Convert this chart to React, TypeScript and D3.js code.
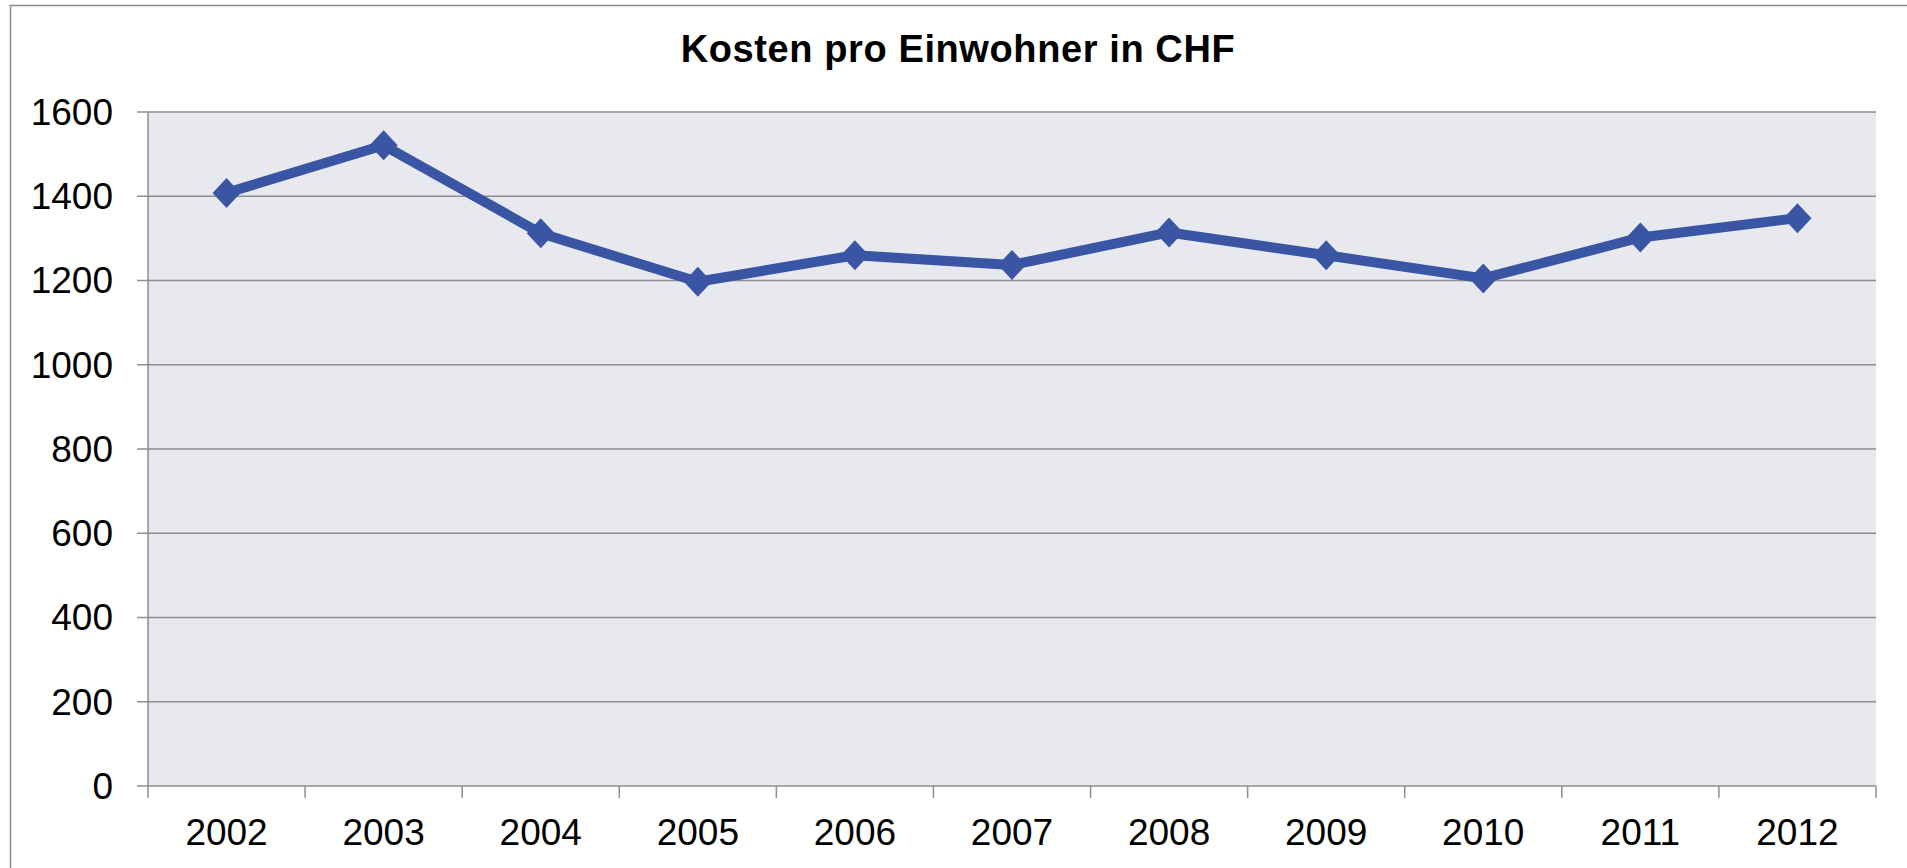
import React from "react";
import * as d3 from "d3";

const years = ["2002", "2003", "2004", "2005", "2006", "2007", "2008", "2009", "2010", "2011", "2012"];
const kosten = [1408, 1521, 1312, 1197, 1260, 1237, 1314, 1260, 1205, 1302, 1348];
const yTicks = [0, 200, 400, 600, 800, 1000, 1200, 1400, 1600];
const title = "Kosten pro Einwohner in CHF";

const W = 1907;
const H = 868;
const plot = { left: 148, right: 1876, top: 112, bottom: 786 };
const lineColor = "#3955a3";
const gridColor = "#8e8e8e";
const font = "'Liberation Sans', Arial, sans-serif";

const App: React.FC = () => {
  const x = d3
    .scaleBand<string>()
    .domain(years)
    .range([plot.left, plot.right])
    .paddingInner(0)
    .paddingOuter(0);

  const y = d3.scaleLinear().domain([0, 1600]).range([plot.bottom, plot.top]);

  const cx = (yr: string) => (x(yr) || 0) + x.bandwidth() / 2;

  const line = d3
    .line<number>()
    .x((_, i) => cx(years[i]))
    .y((d) => y(d));

  // diamond marker, a bit taller than wide like the original
  const diamond = (px: number, py: number) =>
    `M${px},${py - 15}L${px + 14},${py}L${px},${py + 15}L${px - 14},${py}Z`;

  const boundaries = years.map((yr) => x(yr) || 0).concat([plot.right]);

  return (
    <svg
      width={W}
      height={H}
      style={{ position: "fixed", top: 0, left: 0, background: "#fff" }}
    >
      {/* chart frame */}
      <rect x={10.5} y={5.5} width={W + 20} height={H + 20} fill="#fff" stroke="#8c8c8c" strokeWidth={1.5} />

      <text
        x={958}
        y={62}
        textAnchor="middle"
        fontFamily={font}
        fontWeight="bold"
        fontSize={38}
        letterSpacing={0.6}
        fill="#000"
      >
        {title}
      </text>

      <rect
        x={plot.left}
        y={plot.top}
        width={plot.right - plot.left}
        height={plot.bottom - plot.top}
        fill="#e8e9ef"
      />

      {yTicks.map((t) => (
        <g key={t}>
          <line x1={137} x2={plot.right} y1={y(t)} y2={y(t)} stroke={gridColor} strokeWidth={1.5} />
          <text
            x={113}
            y={y(t)}
            dy="0.35em"
            textAnchor="end"
            fontFamily={font}
            fontSize={37}
            fill="#000"
          >
            {t}
          </text>
        </g>
      ))}

      <line x1={plot.left} x2={plot.left} y1={plot.top} y2={plot.bottom} stroke={gridColor} strokeWidth={1.5} />

      {boundaries.map((b, i) => (
        <line key={i} x1={b} x2={b} y1={plot.bottom} y2={plot.bottom + 12} stroke={gridColor} strokeWidth={1.5} />
      ))}

      {years.map((yr) => (
        <text
          key={yr}
          x={cx(yr)}
          y={845}
          textAnchor="middle"
          fontFamily={font}
          fontSize={37}
          fill="#000"
        >
          {yr}
        </text>
      ))}

      <path d={line(kosten) || ""} fill="none" stroke={lineColor} strokeWidth={10} strokeLinejoin="round" />

      {kosten.map((v, i) => (
        <path key={i} d={diamond(cx(years[i]), y(v))} fill={lineColor} />
      ))}
    </svg>
  );
};

export default App;
